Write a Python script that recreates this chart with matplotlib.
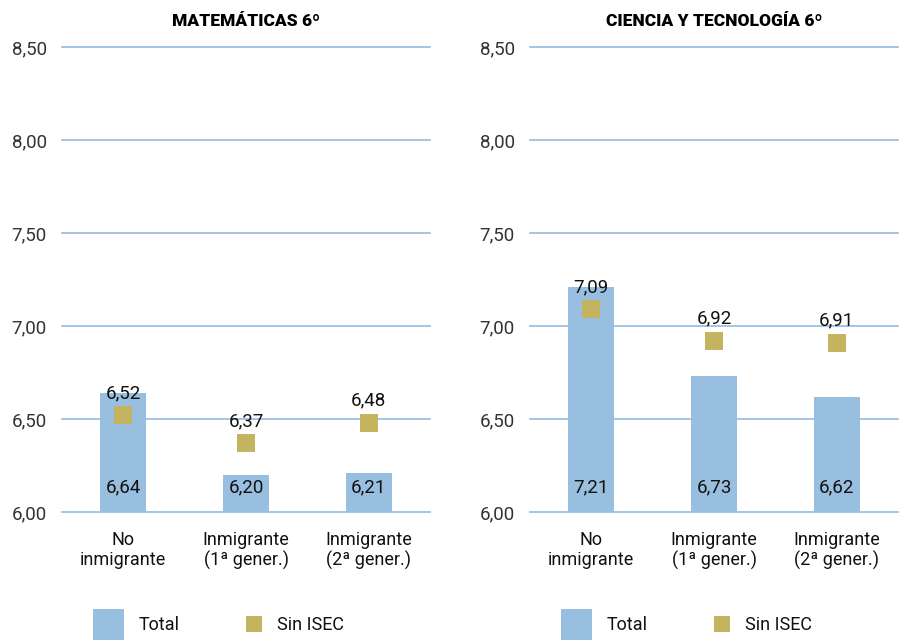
import matplotlib
matplotlib.use("Agg")
import matplotlib.pyplot as plt
from matplotlib.patches import Rectangle

plt.rcParams['font.family'] = ['Roboto', 'DejaVu Sans']

categories = ["No\ninmigrante", "Inmigrante\n(1ª gener.)", "Inmigrante\n(2ª gener.)"]
titles = ["MATEMÁTICAS 6º", "CIENCIA Y TECNOLOGÍA 6º"]
total_mat = [6.64, 6.20, 6.21]
sin_isec_mat = [6.52, 6.37, 6.48]
total_cyt = [7.21, 6.73, 6.62]
sin_isec_cyt = [7.09, 6.92, 6.91]
yticks = [6.0, 6.5, 7.0, 7.5, 8.0, 8.5]
ytick_labels = ["6,00", "6,50", "7,00", "7,50", "8,00", "8,50"]
legend_labels = ["Total", "Sin ISEC"]

BAR = "#98BFDF"
MARK = "#C4B35F"
GRID = "#9CC2E5"

W, H = 906, 641
fig = plt.figure(figsize=(W / 100, H / 100), dpi=100)

def fx(px):
    return px / W

def fy(py):
    return 1 - py / H

panels = [
    (62, 430, titles[0], total_mat, sin_isec_mat),
    (530, 898, titles[1], total_cyt, sin_isec_cyt),
]

FS = 13
FSV = 13.5
for x0, x1, title, tot, sin in panels:
    ax = fig.add_axes([fx(x0), fy(512), fx(x1 - x0), (512 - 47) / H])
    x = list(range(len(categories)))
    ax.set_xlim(-0.5, 2.5)
    ax.set_ylim(6.0, 8.5)
    for s in ax.spines.values():
        s.set_visible(False)
    ax.set_yticks(yticks)
    ax.set_yticklabels(ytick_labels, fontsize=FSV, color="#333333")
    ax.tick_params(axis='y', length=0, pad=11)
    ax.set_xticks(x)
    ax.set_xticklabels(categories, fontsize=FS, color="#111111", linespacing=1.12)
    ax.tick_params(axis='x', length=0, pad=14)
    ax.set_axisbelow(True)
    ax.yaxis.grid(True, color=GRID, linewidth=1.3)
    for gl in ax.get_ygridlines():
        gl.set_clip_on(False)
    ax.bar(x, [t - 6.0 for t in tot], bottom=6.0, width=0.375, color=BAR, zorder=2)
    ax.scatter(x, sin, marker='s', s=150, color=MARK, zorder=3, linewidths=0)
    for xi, t in zip(x, tot):
        ax.annotate(f"{t:.2f}".replace(".", ","), (xi, 6.0), xytext=(0, 18),
                    textcoords="offset points", ha="center", va="center",
                    fontsize=FSV, color="#111111", zorder=4)
    for xi, s in zip(x, sin):
        ax.annotate(f"{s:.2f}".replace(".", ","), (xi, s), xytext=(0, 16),
                    textcoords="offset points", ha="center", va="center",
                    fontsize=FSV, color="#111111", zorder=4)
    ax.set_title(title, fontsize=12.5, fontweight="black", pad=15, color="black")

    # legend
    lx = x0 + 31
    fig.add_artist(Rectangle((fx(lx), fy(640)), fx(31), 31 / H, transform=fig.transFigure,
                             color=BAR, linewidth=0))
    fig.text(fx(lx + 46), fy(625), legend_labels[0], fontsize=FS, va="center", ha="left", color="#111111")
    fig.add_artist(Rectangle((fx(lx + 153), fy(632)), fx(16), 16 / H, transform=fig.transFigure,
                             color=MARK, linewidth=0))
    fig.text(fx(lx + 184), fy(625), legend_labels[1], fontsize=FS, va="center", ha="left", color="#111111")

fig.savefig("out.png", dpi=100)
